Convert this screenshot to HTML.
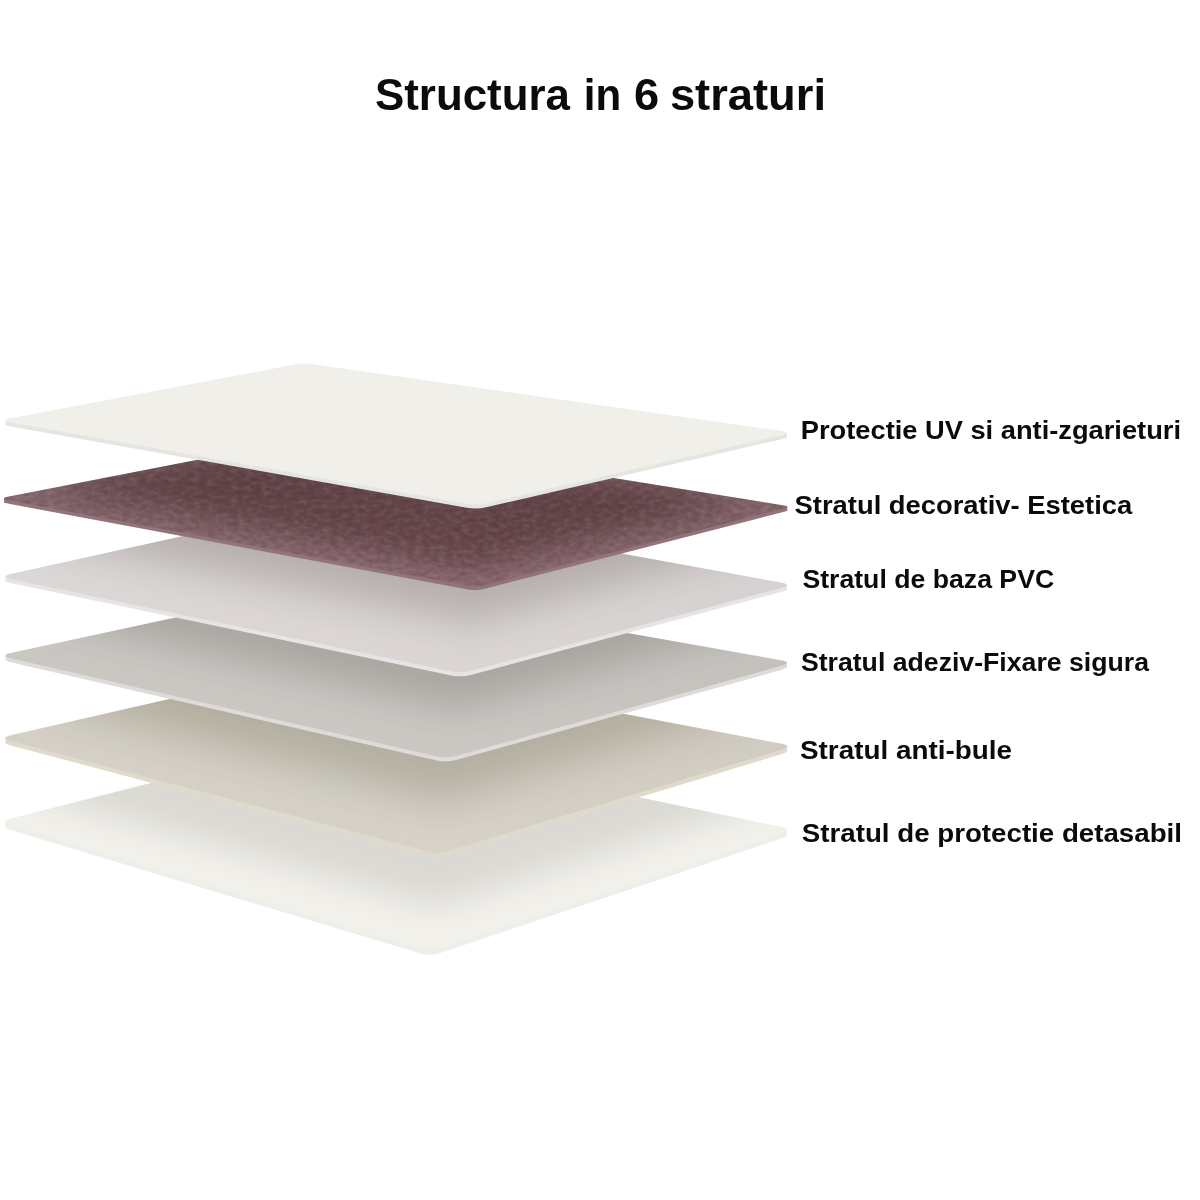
<!DOCTYPE html>
<html><head><meta charset="utf-8"><title>Structura in 6 straturi</title>
<style>html,body{margin:0;padding:0;background:#fff;}body{width:1200px;height:1200px;overflow:hidden;font-family:"Liberation Sans",sans-serif;}svg{display:block}</style>
</head><body>
<svg width="1200" height="1200" viewBox="0 0 1200 1200">
<defs>
<filter id="b18" color-interpolation-filters="sRGB" x="-20%" y="-60%" width="140%" height="220%"><feGaussianBlur stdDeviation="18"/></filter>
<filter id="b20" color-interpolation-filters="sRGB" x="-20%" y="-60%" width="140%" height="220%"><feGaussianBlur stdDeviation="20"/></filter>
<filter id="soft" color-interpolation-filters="sRGB" filterUnits="userSpaceOnUse" x="0" y="340" width="1200" height="640"><feGaussianBlur stdDeviation="0.45"/></filter>
<filter id="b16" color-interpolation-filters="sRGB" x="-20%" y="-60%" width="140%" height="220%"><feGaussianBlur stdDeviation="16"/></filter>
<filter id="blur" color-interpolation-filters="sRGB" x="-20%" y="-60%" width="140%" height="220%"><feGaussianBlur stdDeviation="28"/></filter>
<filter id="nl" color-interpolation-filters="sRGB" x="0" y="0" width="100%" height="100%">
<feTurbulence type="fractalNoise" baseFrequency="0.13 0.22" numOctaves="2" seed="11" result="n"/>
<feColorMatrix in="n" type="matrix" values="0 0 0 0 1  0 0 0 0 0.92  0 0 0 0 0.94  0.26 0 0 0 -0.13"/>
</filter>
<filter id="nd" color-interpolation-filters="sRGB" x="0" y="0" width="100%" height="100%">
<feTurbulence type="fractalNoise" baseFrequency="0.13 0.22" numOctaves="2" seed="11" result="n"/>
<feColorMatrix in="n" type="matrix" values="0 0 0 0 0.12  0 0 0 0 0.02  0 0 0 0 0.04  -0.36 0 0 0 0.18"/>
</filter>
<clipPath id="c1"><path d="M11.8,422.8 Q-1.0,420.5 11.8,418.1 L297.1,364.1 Q303.0,363.0 308.9,363.8 L780.6,430.7 Q793.5,432.5 780.8,435.4 L486.2,503.3 Q476.5,505.5 466.7,503.7 Z"/></clipPath>
<linearGradient id="g1" gradientUnits="userSpaceOnUse" x1="0" y1="0" x2="790" y2="0"><stop offset="0" stop-color="#f0efea"/><stop offset="0.57" stop-color="#f0efea"/><stop offset="1" stop-color="#f0efea"/></linearGradient>
<clipPath id="c2"><path d="M8.8,500.3 Q-1.0,498.5 8.8,496.6 L328.1,434.2 Q334.0,433.0 339.9,434.0 L784.1,505.4 Q791.0,506.5 784.2,508.2 L483.7,585.5 Q476.0,587.5 468.1,586.0 Z"/></clipPath>
<linearGradient id="g2" gradientUnits="userSpaceOnUse" x1="0" y1="0" x2="790" y2="0"><stop offset="0" stop-color="#83666b"/><stop offset="0.57" stop-color="#906f75"/><stop offset="1" stop-color="#816368"/></linearGradient>
<clipPath id="c3"><path d="M11.7,579.2 Q-1.0,576.5 11.7,573.7 L332.1,503.3 Q338.0,502.0 343.9,503.1 L780.7,582.4 Q793.5,584.7 780.9,588.1 L470.7,670.9 Q461.0,673.5 451.2,671.4 Z"/></clipPath>
<linearGradient id="g3" gradientUnits="userSpaceOnUse" x1="0" y1="0" x2="790" y2="0"><stop offset="0" stop-color="#dbd7d6"/><stop offset="0.57" stop-color="#dbd6d5"/><stop offset="1" stop-color="#d5d1d0"/></linearGradient>
<clipPath id="c4"><path d="M11.7,658.4 Q-1.0,655.5 11.7,652.8 L334.1,583.3 Q340.0,582.0 345.9,583.0 L780.7,660.2 Q793.5,662.5 781.0,666.0 L456.1,756.1 Q446.5,758.8 436.8,756.6 Z"/></clipPath>
<linearGradient id="g4" gradientUnits="userSpaceOnUse" x1="0" y1="0" x2="790" y2="0"><stop offset="0" stop-color="#cac7c3"/><stop offset="0.57" stop-color="#cbc7c3"/><stop offset="1" stop-color="#c4c1bd"/></linearGradient>
<clipPath id="c5"><path d="M11.6,741.3 Q-1.0,738.0 11.7,735.1 L334.2,661.3 Q340.0,660.0 345.9,661.1 L780.7,743.6 Q793.5,746.0 781.1,749.8 L447.6,851.1 Q438.0,854.0 428.3,851.4 Z"/></clipPath>
<linearGradient id="g5" gradientUnits="userSpaceOnUse" x1="0" y1="0" x2="790" y2="0"><stop offset="0" stop-color="#d4d0c5"/><stop offset="0.57" stop-color="#d6d1c9"/><stop offset="1" stop-color="#d1ccc1"/></linearGradient>
<clipPath id="c6"><path d="M11.4,825.3 Q-1.0,821.5 11.6,818.3 L334.2,736.5 Q340.0,735.0 345.9,736.2 L780.8,826.8 Q793.5,829.5 781.2,833.6 L439.5,948.3 Q430.0,951.5 420.4,948.6 Z"/></clipPath>
<linearGradient id="g6" gradientUnits="userSpaceOnUse" x1="0" y1="0" x2="790" y2="0"><stop offset="0" stop-color="#f1f0eb"/><stop offset="0.57" stop-color="#f1f0eb"/><stop offset="1" stop-color="#f1f0eb"/></linearGradient>
</defs>
<g filter="url(#soft)">
<path d="M11.4,830.3 Q-1.0,826.5 11.6,823.3 L334.2,741.5 Q340.0,740.0 345.9,741.2 L780.8,831.8 Q793.5,834.5 781.2,838.6 L439.5,953.3 Q430.0,956.5 420.4,953.6 Z" fill="#eeeeea"/>
<path d="M11.4,829.3 Q-1.0,825.5 11.6,822.3 L334.2,740.5 Q340.0,739.0 345.9,740.2 L780.8,830.8 Q793.5,833.5 781.2,837.6 L439.5,952.3 Q430.0,955.5 420.4,952.6 Z" fill="#eeeeea"/>
<path d="M11.4,828.3 Q-1.0,824.5 11.6,821.3 L334.2,739.5 Q340.0,738.0 345.9,739.2 L780.8,829.8 Q793.5,832.5 781.2,836.6 L439.5,951.3 Q430.0,954.5 420.4,951.6 Z" fill="#eeeeea"/>
<path d="M11.4,827.3 Q-1.0,823.5 11.6,820.3 L334.2,738.5 Q340.0,737.0 345.9,738.2 L780.8,828.8 Q793.5,831.5 781.2,835.6 L439.5,950.3 Q430.0,953.5 420.4,950.6 Z" fill="#eeeeea"/>
<path d="M11.4,826.3 Q-1.0,822.5 11.6,819.3 L334.2,737.5 Q340.0,736.0 345.9,737.2 L780.8,827.8 Q793.5,830.5 781.2,834.6 L439.5,949.3 Q430.0,952.5 420.4,949.6 Z" fill="#eeeeea"/>
<path d="M11.4,825.3 Q-1.0,821.5 11.6,818.3 L334.2,736.5 Q340.0,735.0 345.9,736.2 L780.8,826.8 Q793.5,829.5 781.2,833.6 L439.5,948.3 Q430.0,951.5 420.4,948.6 Z" fill="url(#g6)"/>
<g clip-path="url(#c6)"><path d="M11.6,793.3 Q-1.0,790.0 11.7,787.1 L334.2,713.3 Q340.0,712.0 345.9,713.1 L780.7,795.6 Q793.5,798.0 781.1,801.8 L447.6,903.1 Q438.0,906.0 428.3,903.4 Z" transform="translate(395,0) scale(0.95,1) translate(-395,0)" fill="#53493c" opacity="0.132" filter="url(#b16)"/></g>
<path d="M11.6,745.8 Q-1.0,742.5 11.7,739.6 L334.2,665.8 Q340.0,664.5 345.9,665.6 L780.7,748.1 Q793.5,750.5 781.1,754.3 L447.6,855.6 Q438.0,858.5 428.3,855.9 Z" fill="#dfdacb"/>
<path d="M11.6,744.9 Q-1.0,741.6 11.7,738.7 L334.2,664.9 Q340.0,663.6 345.9,664.7 L780.7,747.2 Q793.5,749.6 781.1,753.4 L447.6,854.7 Q438.0,857.6 428.3,855.0 Z" fill="#dfdacb"/>
<path d="M11.6,744.0 Q-1.0,740.7 11.7,737.8 L334.2,664.0 Q340.0,662.7 345.9,663.8 L780.7,746.3 Q793.5,748.7 781.1,752.5 L447.6,853.8 Q438.0,856.7 428.3,854.1 Z" fill="#dfdacb"/>
<path d="M11.6,743.1 Q-1.0,739.8 11.7,736.9 L334.2,663.1 Q340.0,661.8 345.9,662.9 L780.7,745.4 Q793.5,747.8 781.1,751.6 L447.6,852.9 Q438.0,855.8 428.3,853.2 Z" fill="#dfdacb"/>
<path d="M11.6,742.2 Q-1.0,738.9 11.7,736.0 L334.2,662.2 Q340.0,660.9 345.9,662.0 L780.7,744.5 Q793.5,746.9 781.1,750.7 L447.6,852.0 Q438.0,854.9 428.3,852.3 Z" fill="#dfdacb"/>
<path d="M11.6,741.3 Q-1.0,738.0 11.7,735.1 L334.2,661.3 Q340.0,660.0 345.9,661.1 L780.7,743.6 Q793.5,746.0 781.1,749.8 L447.6,851.1 Q438.0,854.0 428.3,851.4 Z" fill="url(#g5)"/>
<g clip-path="url(#c5)"><path d="M11.7,700.4 Q-1.0,697.5 11.7,694.8 L334.1,625.3 Q340.0,624.0 345.9,625.0 L780.7,702.2 Q793.5,704.5 781.0,708.0 L456.1,798.1 Q446.5,800.8 436.8,798.6 Z" transform="translate(395,0) scale(0.93,1) translate(-395,0)" fill="#3e3915" opacity="0.215" filter="url(#b20)"/></g>
<path d="M11.7,662.4 Q-1.0,659.5 11.7,656.8 L334.1,587.3 Q340.0,586.0 345.9,587.0 L780.7,664.2 Q793.5,666.5 781.0,670.0 L456.1,760.1 Q446.5,762.8 436.8,760.6 Z" fill="#dedcda"/>
<path d="M11.7,661.4 Q-1.0,658.5 11.7,655.8 L334.1,586.3 Q340.0,585.0 345.9,586.0 L780.7,663.2 Q793.5,665.5 781.0,669.0 L456.1,759.1 Q446.5,761.8 436.8,759.6 Z" fill="#dedcda"/>
<path d="M11.7,660.4 Q-1.0,657.5 11.7,654.8 L334.1,585.3 Q340.0,584.0 345.9,585.0 L780.7,662.2 Q793.5,664.5 781.0,668.0 L456.1,758.1 Q446.5,760.8 436.8,758.6 Z" fill="#dedcda"/>
<path d="M11.7,659.4 Q-1.0,656.5 11.7,653.8 L334.1,584.3 Q340.0,583.0 345.9,584.0 L780.7,661.2 Q793.5,663.5 781.0,667.0 L456.1,757.1 Q446.5,759.8 436.8,757.6 Z" fill="#dedcda"/>
<path d="M11.7,658.4 Q-1.0,655.5 11.7,652.8 L334.1,583.3 Q340.0,582.0 345.9,583.0 L780.7,660.2 Q793.5,662.5 781.0,666.0 L456.1,756.1 Q446.5,758.8 436.8,756.6 Z" fill="url(#g4)"/>
<g clip-path="url(#c4)"><path d="M11.7,615.2 Q-1.0,612.5 11.7,609.7 L332.1,539.3 Q338.0,538.0 343.9,539.1 L780.7,618.4 Q793.5,620.7 780.9,624.1 L470.7,706.9 Q461.0,709.5 451.2,707.4 Z" transform="translate(395,0) scale(0.93,1) translate(-395,0)" fill="#363329" opacity="0.21" filter="url(#b18)"/></g>
<path d="M11.7,583.2 Q-1.0,580.5 11.7,577.7 L332.1,507.3 Q338.0,506.0 343.9,507.1 L780.7,586.4 Q793.5,588.7 780.9,592.1 L470.7,674.9 Q461.0,677.5 451.2,675.4 Z" fill="#e7e5e4"/>
<path d="M11.7,582.2 Q-1.0,579.5 11.7,576.7 L332.1,506.3 Q338.0,505.0 343.9,506.1 L780.7,585.4 Q793.5,587.7 780.9,591.1 L470.7,673.9 Q461.0,676.5 451.2,674.4 Z" fill="#e7e5e4"/>
<path d="M11.7,581.2 Q-1.0,578.5 11.7,575.7 L332.1,505.3 Q338.0,504.0 343.9,505.1 L780.7,584.4 Q793.5,586.7 780.9,590.1 L470.7,672.9 Q461.0,675.5 451.2,673.4 Z" fill="#e7e5e4"/>
<path d="M11.7,580.2 Q-1.0,577.5 11.7,574.7 L332.1,504.3 Q338.0,503.0 343.9,504.1 L780.7,583.4 Q793.5,585.7 780.9,589.1 L470.7,671.9 Q461.0,674.5 451.2,672.4 Z" fill="#e7e5e4"/>
<path d="M11.7,579.2 Q-1.0,576.5 11.7,573.7 L332.1,503.3 Q338.0,502.0 343.9,503.1 L780.7,582.4 Q793.5,584.7 780.9,588.1 L470.7,670.9 Q461.0,673.5 451.2,671.4 Z" fill="url(#g3)"/>
<g clip-path="url(#c3)"><path d="M8.8,536.3 Q-1.0,534.5 8.8,532.6 L328.1,470.2 Q334.0,469.0 339.9,470.0 L784.1,541.4 Q791.0,542.5 784.2,544.2 L483.7,621.5 Q476.0,623.5 468.1,622.0 Z" transform="translate(395,0) scale(0.93,1) translate(-395,0)" fill="#453b35" opacity="0.24" filter="url(#b18)"/></g>
<path d="M8.8,503.8 Q-1.0,502.0 8.8,500.1 L328.1,437.7 Q334.0,436.5 339.9,437.5 L784.1,508.9 Q791.0,510.0 784.2,511.7 L483.7,589.0 Q476.0,591.0 468.1,589.5 Z" fill="#93747b"/>
<path d="M8.8,503.0 Q-1.0,501.1 8.8,499.2 L328.1,436.8 Q334.0,435.6 339.9,436.6 L784.1,508.0 Q791.0,509.1 784.2,510.9 L483.7,588.1 Q476.0,590.1 468.1,588.7 Z" fill="#93747b"/>
<path d="M8.8,502.1 Q-1.0,500.2 8.8,498.3 L328.1,435.9 Q334.0,434.8 339.9,435.7 L784.1,507.1 Q791.0,508.2 784.2,510.0 L483.7,587.3 Q476.0,589.2 468.1,587.8 Z" fill="#93747b"/>
<path d="M8.8,501.2 Q-1.0,499.4 8.8,497.5 L328.1,435.0 Q334.0,433.9 339.9,434.8 L784.1,506.3 Q791.0,507.4 784.2,509.1 L483.7,586.4 Q476.0,588.4 468.1,586.9 Z" fill="#93747b"/>
<path d="M8.8,500.3 Q-1.0,498.5 8.8,496.6 L328.1,434.2 Q334.0,433.0 339.9,434.0 L784.1,505.4 Q791.0,506.5 784.2,508.2 L483.7,585.5 Q476.0,587.5 468.1,586.0 Z" fill="url(#g2)"/>
<g clip-path="url(#c2)"><path d="M11.8,488.8 Q-1.0,486.5 11.8,484.1 L297.1,430.1 Q303.0,429.0 308.9,429.8 L780.6,496.7 Q793.5,498.5 780.8,501.4 L486.2,569.3 Q476.5,571.5 466.7,569.7 Z" transform="translate(395,0) scale(0.9,1) translate(-395,0)" fill="#1c0002" opacity="0.37" filter="url(#b16)"/></g>
<g clip-path="url(#c2)"><rect x="0" y="430" width="800" height="170" fill="#fff" filter="url(#nl)"/><rect x="0" y="430" width="800" height="170" fill="#000" filter="url(#nd)"/></g>
<path d="M11.8,426.8 Q-1.0,424.5 11.8,422.1 L297.1,368.1 Q303.0,367.0 308.9,367.8 L780.6,434.7 Q793.5,436.5 780.8,439.4 L486.2,507.3 Q476.5,509.5 466.7,507.7 Z" fill="#e5e5e1"/>
<path d="M11.8,425.8 Q-1.0,423.5 11.8,421.1 L297.1,367.1 Q303.0,366.0 308.9,366.8 L780.6,433.7 Q793.5,435.5 780.8,438.4 L486.2,506.3 Q476.5,508.5 466.7,506.7 Z" fill="#e5e5e1"/>
<path d="M11.8,424.8 Q-1.0,422.5 11.8,420.1 L297.1,366.1 Q303.0,365.0 308.9,365.8 L780.6,432.7 Q793.5,434.5 780.8,437.4 L486.2,505.3 Q476.5,507.5 466.7,505.7 Z" fill="#e5e5e1"/>
<path d="M11.8,423.8 Q-1.0,421.5 11.8,419.1 L297.1,365.1 Q303.0,364.0 308.9,364.8 L780.6,431.7 Q793.5,433.5 780.8,436.4 L486.2,504.3 Q476.5,506.5 466.7,504.7 Z" fill="#e5e5e1"/>
<path d="M11.8,422.8 Q-1.0,420.5 11.8,418.1 L297.1,364.1 Q303.0,363.0 308.9,363.8 L780.6,430.7 Q793.5,432.5 780.8,435.4 L486.2,503.3 Q476.5,505.5 466.7,503.7 Z" fill="url(#g1)"/>
</g>
<g font-family="'Liberation Sans', sans-serif" font-weight="700" fill="#0b0b0b" opacity="0.999">
<text x="375.0" y="110.0" font-size="45" textLength="195.0" lengthAdjust="spacingAndGlyphs">Structura</text>
<text x="583.8" y="110.0" font-size="45" textLength="37.4" lengthAdjust="spacingAndGlyphs">in</text>
<text x="634.0" y="110.0" font-size="45" textLength="25.1" lengthAdjust="spacingAndGlyphs">6</text>
<text x="669.9" y="110.0" font-size="45" textLength="156.1" lengthAdjust="spacingAndGlyphs">straturi</text>
<text x="800.8" y="439.4" font-size="25.5" textLength="380.2" lengthAdjust="spacingAndGlyphs">Protectie UV si anti-zgarieturi</text>
<text x="794.6" y="513.9" font-size="25.5" textLength="337.6" lengthAdjust="spacingAndGlyphs">Stratul decorativ- Estetica</text>
<text x="802.4" y="587.7" font-size="25.5" textLength="251.8" lengthAdjust="spacingAndGlyphs">Stratul de baza PVC</text>
<text x="800.9" y="670.6" font-size="25.5" textLength="348.1" lengthAdjust="spacingAndGlyphs">Stratul adeziv-Fixare sigura</text>
<text x="800.0" y="759.2" font-size="25.5" textLength="211.9" lengthAdjust="spacingAndGlyphs">Stratul anti-bule</text>
<text x="801.8" y="841.5" font-size="25.5" textLength="380.2" lengthAdjust="spacingAndGlyphs">Stratul de protectie detasabil</text>
</g></svg>
</body></html>
